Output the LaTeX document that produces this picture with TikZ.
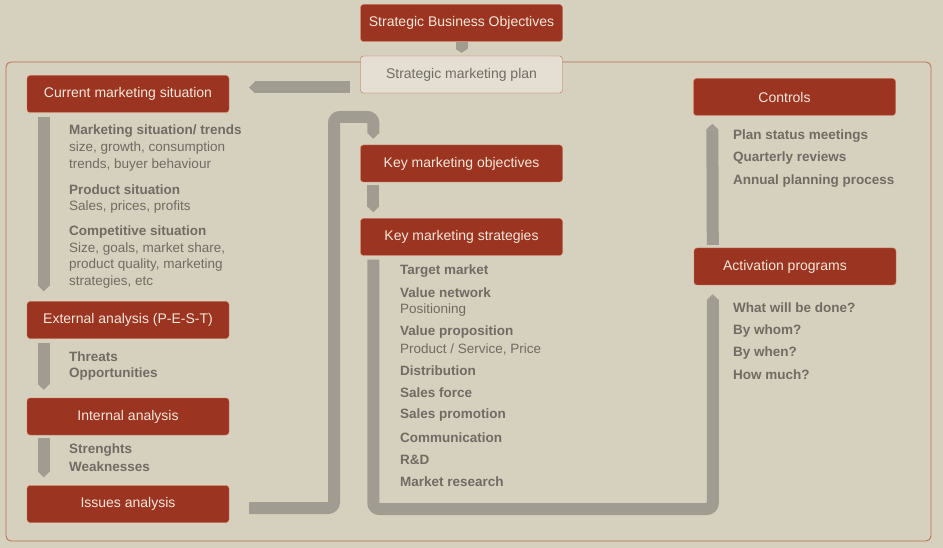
\documentclass[tikz,border=0pt]{standalone}
\usepackage{fontspec}
\setmainfont{Liberation Sans}
\usetikzlibrary{arrows.meta}
\definecolor{bgbeige}{RGB}{214,208,190}
\definecolor{boxred}{RGB}{155,52,33}
\definecolor{boxedge}{RGB}{214,120,92}
\definecolor{boxtext}{RGB}{245,232,218}
\definecolor{planfill}{RGB}{228,223,210}
\definecolor{frameline}{RGB}{181,107,80}
\definecolor{notegray}{RGB}{112,108,100}
\definecolor{flowgray}{RGB}{160,156,145}
\tikzset{
box/.style={draw=boxedge,fill=boxred,rounded corners=3pt,minimum width=202pt,minimum height=37pt,inner sep=0pt,text=boxtext,font=\fontsize{14}{16}\selectfont},
planbox/.style={box,draw=frameline,fill=planfill,text=notegray},
flow/.style={draw=flowgray,line width=12pt,-{Triangle[width=12pt,length=6pt]},rounded corners=6pt},
note/.style={anchor=west,inner sep=0pt,text=notegray,font=\fontsize{13.5}{15}\selectfont},
notehead/.style={note,font=\fontsize{13.5}{15}\selectfont\bfseries}
}
\begin{document}
\begin{tikzpicture}[x=1pt,y=-1pt]
\fill[bgbeige] (0,0) rectangle (943,548);
\useasboundingbox (0,0) rectangle (943,548);
\draw[frameline,rounded corners=5pt,line width=0.8pt] (6,62) rectangle (931,541);
\node[box] (sbo) at (461.5,23) {Strategic Business Objectives};
\node[planbox] (smp) at (461.5,74.5) {Strategic marketing plan};
\node[box] (cms) at (128,94) {Current marketing situation};
\node[box] (ext) at (128,320) {External analysis (P-E-S-T)};
\node[box] (int) at (128,416.5) {Internal analysis};
\node[box] (iss) at (128,504) {Issues analysis};
\node[box] (kmo) at (461.5,163.5) {Key marketing objectives};
\node[box] (kms) at (461.5,237) {Key marketing strategies};
\node[box] (ctl) at (794.5,97) {\hspace*{-20pt}Controls};
\node[box] (act) at (795,266.5) {\hspace*{-20pt}Activation programs};
\draw[flow,-{Triangle[width=12pt,length=4pt]},shorten >=3pt] (sbo.south) -- (smp.north);
\coordinate (pl) at ([yshift=-13pt]smp.west);
\draw[flow,shorten <=10pt,shorten >=20pt] (pl) -- (pl -| cms.east);
\draw[flow,shorten <=4pt,shorten >=10pt] ([xshift=17pt]cms.south west) -- ([xshift=17pt]ext.north west);
\draw[flow,shorten <=4pt,shorten >=8pt] ([xshift=17pt]ext.south west) -- ([xshift=17pt]int.north west);
\draw[flow,shorten <=3pt,shorten >=8pt] ([xshift=17pt]int.south west) -- ([xshift=17pt]iss.north west);
\coordinate (tb) at (334,117);
\draw[flow,shorten >=6pt] ([xshift=20pt,yshift=-4pt]iss.east) -| (tb) -| ([xshift=13pt]kmo.north west);
\draw[flow,shorten <=3pt,shorten >=6pt] ([xshift=13pt]kmo.south west) -- ([xshift=13pt]kms.north west);
\coordinate (ub) at (540,509);
\draw[flow,shorten <=4pt,shorten >=9pt] ([xshift=13pt]kms.south west) |- (ub) -| ([xshift=19pt]act.south west);
\draw[flow,shorten <=3pt,shorten >=8pt] ([xshift=19pt]act.north west) -- ([xshift=19pt]ctl.south west);
\foreach \s/\y/\t [count=\i] in {notehead/131/{Marketing situation\slash\ trends},note/148/{size, growth, consumption},note/165/{trends, buyer behaviour},notehead/190/{Product situation},note/207/{Sales, prices, profits},notehead/232/{Competitive situation},note/249/{Size, goals, market share,},note/265/{product quality, marketing},note/282/{strategies, etc},notehead/357/{Threats},notehead/374/{Opportunities},notehead/450/{Strenghts},notehead/467/{Weaknesses}}
\node[\s] (l\i) at (69,\y) {\t};
\foreach \s/\y/\t [count=\i] in {notehead/271/{Target market},notehead/293/{Value network},note/310/{Positioning},notehead/332/{Value proposition},note/349/{Product \slash\ Service, Price},notehead/371/{Distribution},notehead/393/{Sales force},notehead/415/{Sales promotion},notehead/438/{Communication},notehead/460/{R\&D},notehead/482/{Market research}}
\node[\s] (m\i) at (400,\y) {\t};
\foreach \y/\t [count=\i] in {136/{Plan status meetings},158/{Quarterly reviews},181/{Annual planning process},308/{What will be done?},331/{By whom?},353/{By when?},375/{How much?}}
\node[notehead] (r\i) at (733,\y) {\t};
\end{tikzpicture}
\end{document}
